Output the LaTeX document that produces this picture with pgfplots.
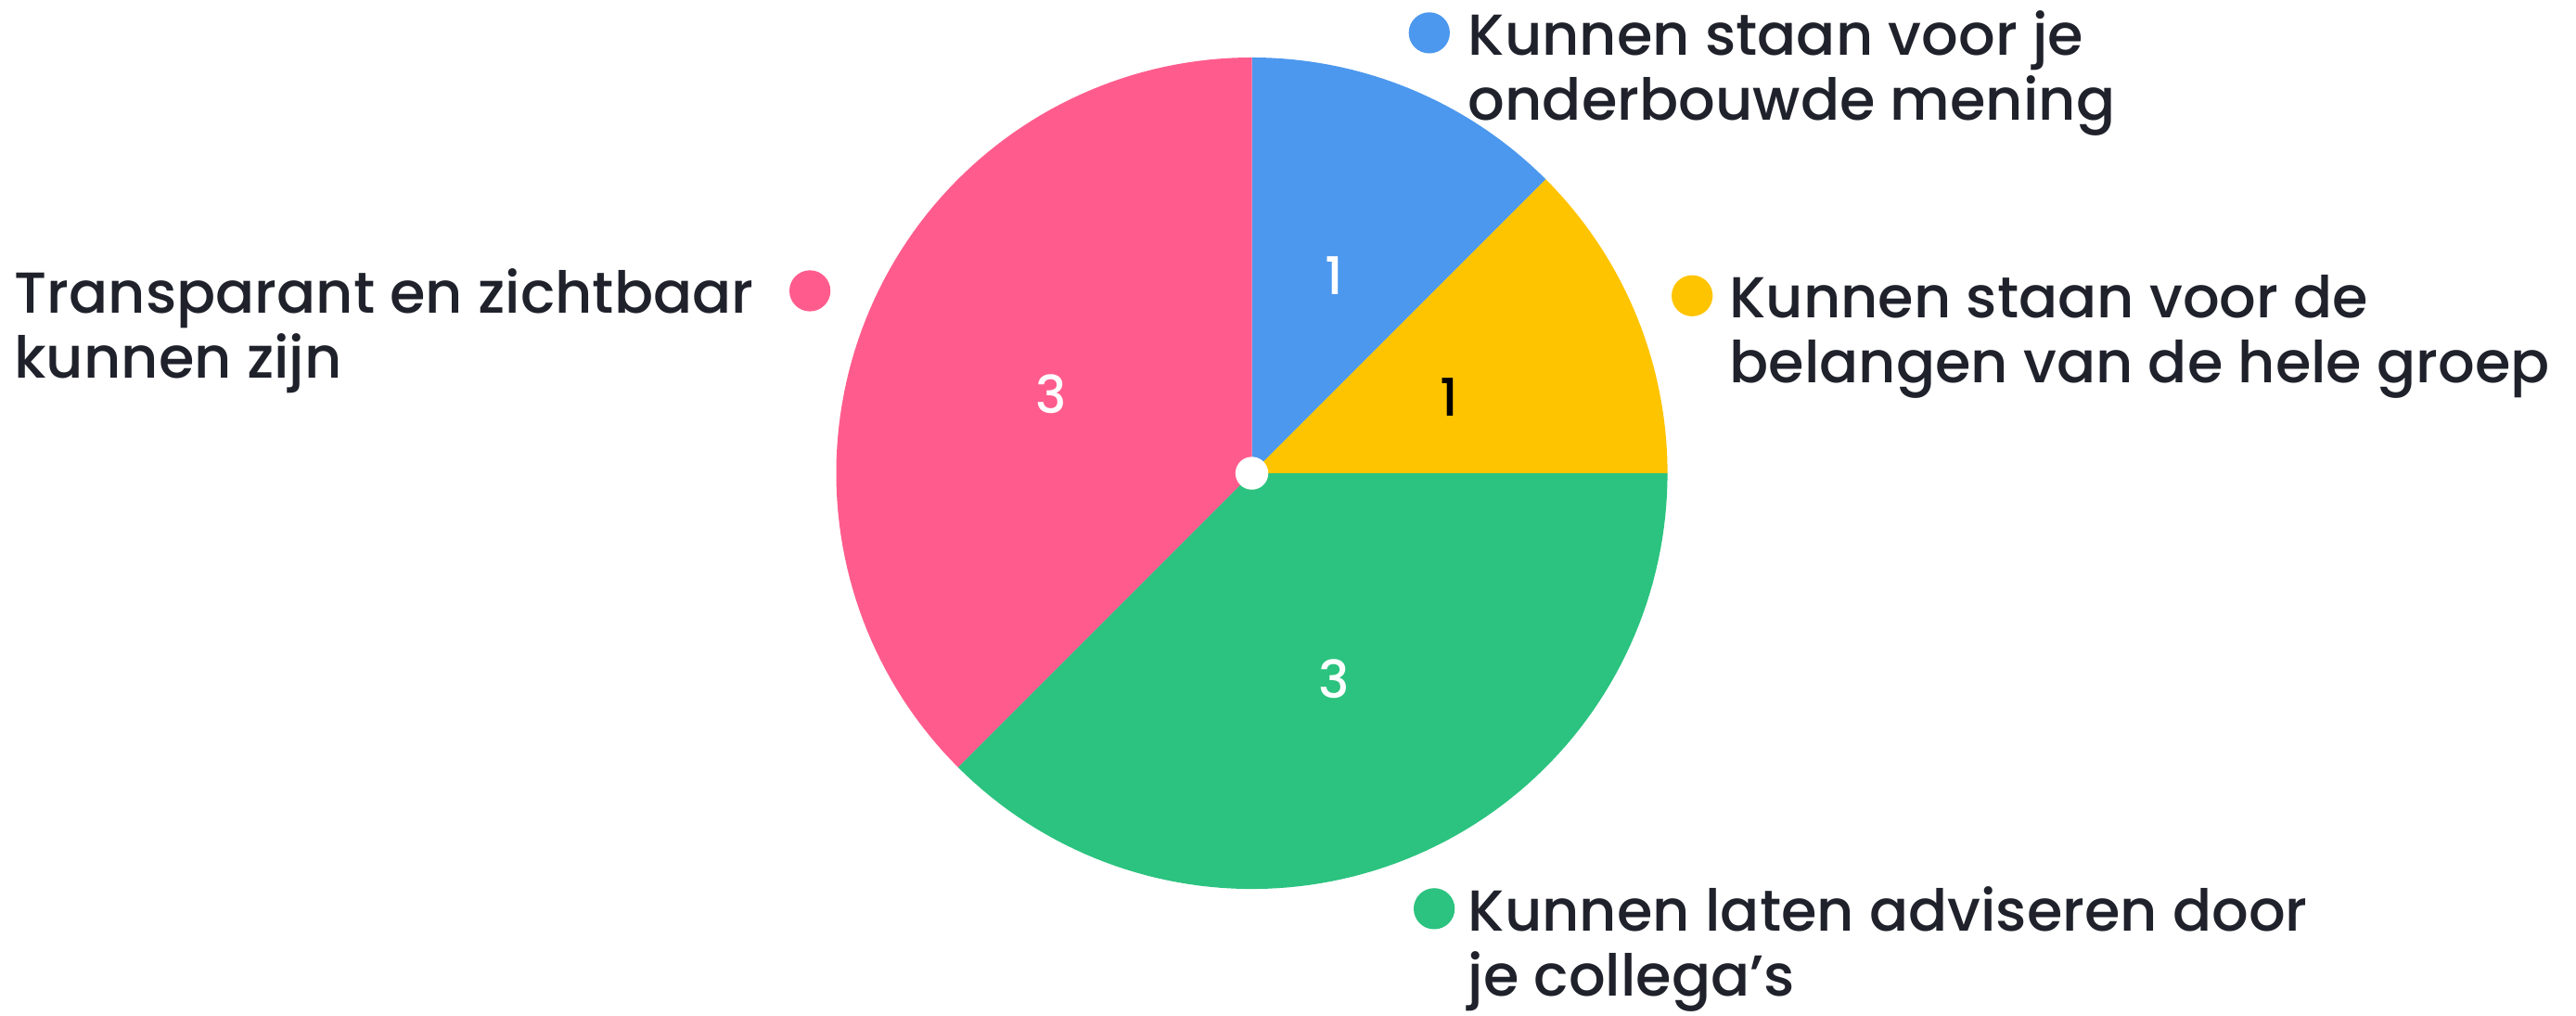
\documentclass[border=0pt]{standalone}
\usepackage{fontspec}
\setmainfont{Poppins}[UprightFont={* Medium}]
\usepackage{pgfplots}
\pgfplotsset{compat=1.18}

\definecolor{mblue}{HTML}{4C98EE}
\definecolor{myellow}{HTML}{FFC400}
\definecolor{mgreen}{HTML}{2BC37F}
\definecolor{mpink}{HTML}{FF5C8D}
\definecolor{mtext}{HTML}{1F212B}

\begin{document}
\begin{tikzpicture}
  % votes per answer (total 8), clockwise from 12 o'clock
  \def\vA{1}\def\vB{1}\def\vC{3}\def\vD{3}
  \pgfmathsetmacro\tot{\vA+\vB+\vC+\vD}
  \pgfmathsetmacro\aA{90}
  \pgfmathsetmacro\aB{\aA-360*\vA/\tot}
  \pgfmathsetmacro\aC{\aB-360*\vB/\tot}
  \pgfmathsetmacro\aD{\aC-360*\vC/\tot}
  \pgfmathsetmacro\aE{\aD-360*\vD/\tot}
  \def\R{253}
  \begin{axis}[
      scale only axis,
      width=156.8mm, height=61.8mm,
      xmin=-762, xmax=806, ymin=-330, ymax=288,
      hide axis, clip=false,
      font=\fontsize{10pt}{11.2pt}\selectfont,
    ]
    \fill[white] (-762,-330) rectangle (806,288);
    \fill[mblue]   (0,0) -- plot[domain=\aA:\aB, samples=40] ({\R*cos(\x)},{\R*sin(\x)}) -- cycle;
    \fill[myellow] (0,0) -- plot[domain=\aB:\aC, samples=40] ({\R*cos(\x)},{\R*sin(\x)}) -- cycle;
    \fill[mgreen]  (0,0) -- plot[domain=\aC:\aD, samples=90] ({\R*cos(\x)},{\R*sin(\x)}) -- cycle;
    \fill[mpink]   (0,0) -- plot[domain=\aD:\aE, samples=90] ({\R*cos(\x)},{\R*sin(\x)}) -- cycle;
    \fill[white] (0,0) circle[radius=1mm];

    % values inside the slices
    \node[white, font=\fontsize{9pt}{9pt}\selectfont] at (50,120) {1};
    \node[black, font=\fontsize{9pt}{9pt}\selectfont] at (120,46) {1};
    \node[white, font=\fontsize{9pt}{9pt}\selectfont] at (50,-125) {3};
    \node[white, font=\fontsize{9pt}{9pt}\selectfont] at (-122,48) {3};

    % labels
    \fill[mblue] (108,268) circle[radius=1.25mm];
    \node[mtext, anchor=base west, inner sep=0] at (131,254.5) {Kunnen staan voor je};
    \node[mtext, anchor=base west, inner sep=0] at (131,215) {onderbouwde mening};

    \fill[myellow] (268,108) circle[radius=1.25mm];
    \node[mtext, anchor=base west, inner sep=0] at (290,94.5) {Kunnen staan voor de};
    \node[mtext, anchor=base west, inner sep=0] at (290,55) {belangen van de hele groep};

    \fill[mpink] (-269,111) circle[radius=1.25mm];
    \node[mtext, anchor=base west, inner sep=0] at (-754,97.5) {Transparant en zichtbaar};
    \node[mtext, anchor=base west, inner sep=0] at (-754,58) {kunnen zijn};

    \fill[mgreen] (111,-265) circle[radius=1.25mm];
    \node[mtext, anchor=base west, inner sep=0] at (131,-278.5) {Kunnen laten adviseren door};
    \node[mtext, anchor=base west, inner sep=0] at (131,-318) {je collega's};
  \end{axis}
\end{tikzpicture}
\end{document}
